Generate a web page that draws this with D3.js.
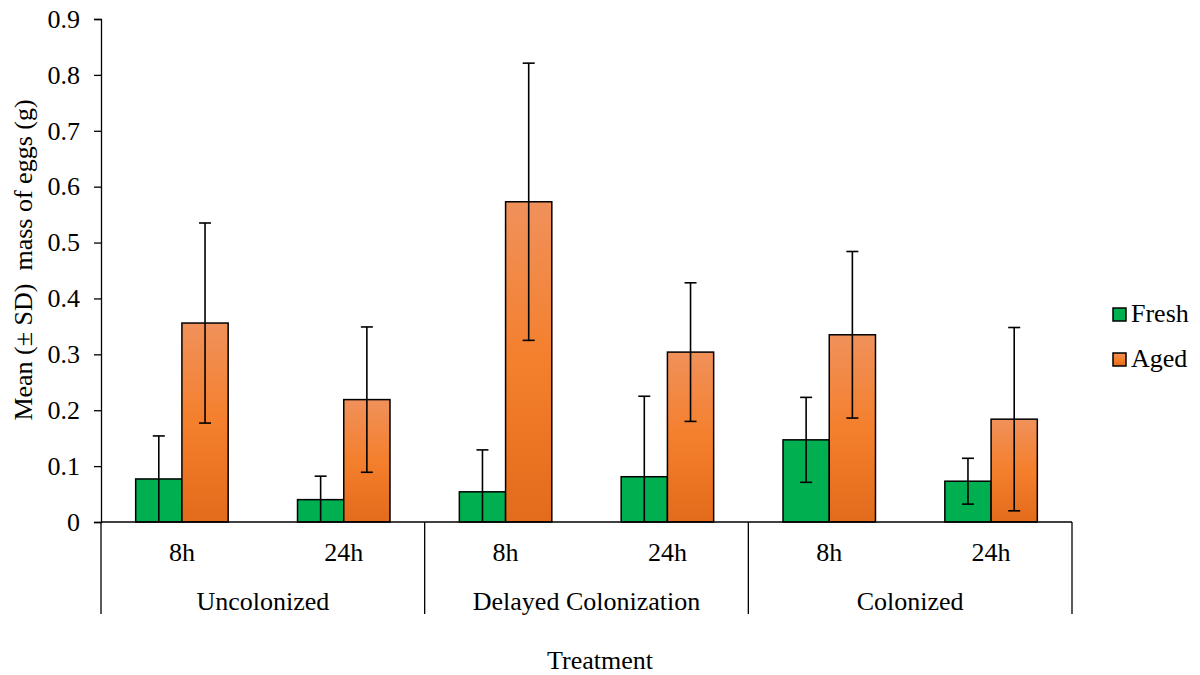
<!DOCTYPE html>
<html>
<head>
<meta charset="utf-8">
<script src="https://cdn.jsdelivr.net/npm/d3@7"></script>
<style>
  body { margin: 0; background: #fff; }
  svg { font-family: "Liberation Serif", "Times New Roman", serif; }
  .axis path, .axis line { stroke: #000; stroke-width: 1.3; }
  .axis text { font-size: 26px; fill: #000; font-family: "Liberation Serif", serif; }
</style>
</head>
<body>
<script>
// data
const groups = ["Uncolonized", "Delayed Colonization", "Colonized"]
const times = ["8h", "24h"]
const series = ["Fresh", "Aged"]
const freshMean = [0.077, 0.040, 0.054, 0.081, 0.147, 0.073]
const freshSD = [0.077, 0.042, 0.075, 0.144, 0.076, 0.041]
const agedMean = [0.356, 0.219, 0.573, 0.304, 0.335, 0.184]
const agedSD = [0.179, 0.130, 0.248, 0.124, 0.149, 0.164]
const yTicks = [0, 0.1, 0.2, 0.3, 0.4, 0.5, 0.6, 0.7, 0.8, 0.9]

const width = 1200, height = 675
const plot = { left: 101, right: 1072, top: 19, bottom: 522 }
const fontSize = "26px"

const svg = d3.select("body").append("svg")
    .attr("width", width)
    .attr("height", height)
    .attr("viewBox", [0, 0, width, height])

// orange gradient like the Excel fill
const defs = svg.append("defs")
const grad = defs.append("linearGradient")
    .attr("id", "agedGrad")
    .attr("x1", 0).attr("y1", 0).attr("x2", 0).attr("y2", 1)
grad.append("stop").attr("offset", "0%").attr("stop-color", "#F0915B")
grad.append("stop").attr("offset", "50%").attr("stop-color", "#F47F2C")
grad.append("stop").attr("offset", "100%").attr("stop-color", "#E36B1C")

const colors = { Fresh: "#00B050", Aged: "url(#agedGrad)" }

// one slot per group/time combination
const slots = []
groups.forEach((g, gi) => times.forEach((t, ti) => slots.push({ group: g, time: t, i: gi * times.length + ti })))

const x0 = d3.scaleBand()
    .domain(slots.map(d => d.i))
    .range([plot.left, plot.right])
    .padding(0)

const x1 = d3.scaleBand()
    .domain(series)
    .range([0, x0.bandwidth()])
    .paddingInner(0)
    .paddingOuter(0.75)

const y = d3.scaleLinear()
    .domain([0, 0.9])
    .range([plot.bottom, plot.top])

// y axis
const yaxis = d3.axisLeft(y)
    .tickValues(yTicks)
    .tickFormat(d => d === 0 ? "0" : d3.format(".1f")(d))
    .tickSize(7)
    .tickSizeOuter(7)
    .tickPadding(14)

svg.append("g")
    .attr("class", "axis")
    .attr("transform", `translate(${plot.left},0)`)
    .call(yaxis)

// bars
const rows = []
slots.forEach(s => {
    rows.push({ slot: s.i, key: "Fresh", mean: freshMean[s.i], sd: freshSD[s.i] })
    rows.push({ slot: s.i, key: "Aged", mean: agedMean[s.i], sd: agedSD[s.i] })
})

svg.selectAll(".bar")
    .data(rows)
    .enter().append("rect")
    .attr("class", "bar")
    .attr("x", d => x0(d.slot) + x1(d.key))
    .attr("y", d => y(d.mean))
    .attr("width", x1.bandwidth())
    .attr("height", d => y(0) - y(d.mean))
    .attr("fill", d => colors[d.key])
    .attr("stroke", "#000")
    .attr("stroke-width", 1.5)

// error bars (clipped at zero)
const err = svg.selectAll(".err")
    .data(rows)
    .enter().append("g")
    .attr("class", "err")
    .attr("transform", d => `translate(${x0(d.slot) + x1(d.key) + x1.bandwidth() / 2},0)`)

err.append("line")
    .attr("y1", d => y(d.mean + d.sd))
    .attr("y2", d => y(Math.max(0, d.mean - d.sd)))
    .attr("stroke", "#000")
    .attr("stroke-width", 1.6)

err.append("line")
    .attr("x1", -6).attr("x2", 6)
    .attr("y1", d => y(d.mean + d.sd))
    .attr("y2", d => y(d.mean + d.sd))
    .attr("stroke", "#000")
    .attr("stroke-width", 1.6)

err.filter(d => d.mean - d.sd > 0.005).append("line")
    .attr("x1", -6).attr("x2", 6)
    .attr("y1", d => y(d.mean - d.sd))
    .attr("y2", d => y(d.mean - d.sd))
    .attr("stroke", "#000")
    .attr("stroke-width", 1.6)

// x axis line and multi-level category labels
svg.append("line")
    .attr("x1", plot.left).attr("x2", plot.right)
    .attr("y1", y(0)).attr("y2", y(0))
    .attr("stroke", "#000").attr("stroke-width", 1.3)

const groupEdges = groups.map((g, gi) => x0(gi * times.length))
groupEdges.push(plot.right)

svg.selectAll(".sep")
    .data(groupEdges)
    .enter().append("line")
    .attr("class", "sep")
    .attr("x1", d => d).attr("x2", d => d)
    .attr("y1", y(0)).attr("y2", 614)
    .attr("stroke", "#000").attr("stroke-width", 1.3)

svg.selectAll(".timeLabel")
    .data(slots)
    .enter().append("text")
    .attr("class", "timeLabel")
    .attr("x", d => x0(d.i) + x0.bandwidth() / 2)
    .attr("y", 561)
    .attr("text-anchor", "middle")
    .style("font-size", fontSize)
    .text(d => d.time)

svg.selectAll(".groupLabel")
    .data(groups)
    .enter().append("text")
    .attr("class", "groupLabel")
    .attr("x", (d, i) => (groupEdges[i] + groupEdges[i + 1]) / 2)
    .attr("y", 610)
    .attr("text-anchor", "middle")
    .style("font-size", fontSize)
    .text(d => d)

// axis titles
svg.append("text")
    .attr("x", 600)
    .attr("y", 669)
    .attr("text-anchor", "middle")
    .style("font-size", fontSize)
    .text("Treatment")

svg.append("text")
    .attr("transform", "rotate(-90)")
    .attr("x", -260)
    .attr("y", 32)
    .attr("text-anchor", "middle")
    .style("font-size", fontSize)
    .style("white-space", "pre")
    .text("Mean (\u00B1 SD)  mass of eggs (g)")

// legend
const legend = svg.selectAll(".legend")
    .data(series)
    .enter().append("g")
    .attr("class", "legend")
    .attr("transform", (d, i) => `translate(1113,${308 + i * 45})`)

legend.append("rect")
    .attr("width", 13).attr("height", 13)
    .attr("fill", d => colors[d])
    .attr("stroke", "#000").attr("stroke-width", 1.5)

legend.append("text")
    .attr("x", 18)
    .attr("y", 14)
    .style("font-size", fontSize)
    .text(d => d)
</script>
</body>
</html>
